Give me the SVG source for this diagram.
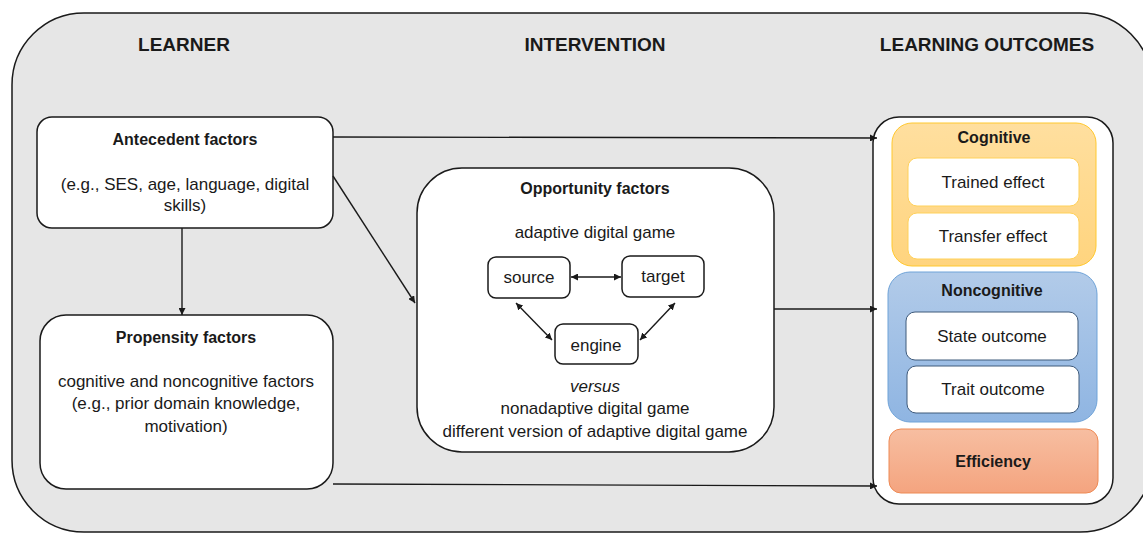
<svg xmlns="http://www.w3.org/2000/svg" width="1143" height="533" viewBox="0 0 1143 533">
<defs>
<style>
text{font-family:"Liberation Sans",Arial,sans-serif;fill:#1a1a1a;text-anchor:middle}
.h{font-size:19px;font-weight:bold}
.t{font-size:16px;font-weight:bold}
.b{font-size:17px}
.box{fill:#fff;stroke:#1a1a1a;stroke-width:1.5}
.conn{stroke:#1a1a1a;stroke-width:1.4;fill:none}
</style>
<marker id="ah" viewBox="0 0 10 10" refX="10" refY="5" markerWidth="7" markerHeight="7" markerUnits="userSpaceOnUse" orient="auto-start-reverse">
<path d="M0,0 L10,5 L0,10 z" fill="#1a1a1a"/>
</marker>
<linearGradient id="gOr" x1="0" y1="0" x2="0" y2="1"><stop offset="0" stop-color="#ffdf9f"/><stop offset="1" stop-color="#ffd47e"/></linearGradient>
<linearGradient id="gBl" x1="0" y1="0" x2="0" y2="1"><stop offset="0" stop-color="#b2cbe9"/><stop offset="1" stop-color="#8fb5e2"/></linearGradient>
<linearGradient id="gRd" x1="0" y1="0" x2="0" y2="1"><stop offset="0" stop-color="#f7bea1"/><stop offset="1" stop-color="#f4a47f"/></linearGradient>
</defs>

<g id="frame">
<rect x="12" y="13" width="1140" height="519" rx="72" fill="#e6e6e6" stroke="#1a1a1a" stroke-width="1.5"/>
<text class="h" x="184" y="51">LEARNER</text>
<text class="h" x="595" y="51">INTERVENTION</text>
<text class="h" x="987" y="51">LEARNING OUTCOMES</text>
</g>

<g id="antecedent">
<rect class="box" x="37" y="117" width="296" height="111" rx="15"/>
<text class="t" x="185" y="145">Antecedent factors</text>
<text class="b" x="185" y="190">(e.g., SES, age, language, digital</text>
<text class="b" x="185" y="211">skills)</text>
</g>

<g id="propensity">
<rect class="box" x="40" y="315" width="293" height="174" rx="26"/>
<text class="t" x="186" y="343">Propensity factors</text>
<text class="b" x="186" y="387">cognitive and noncognitive factors</text>
<text class="b" x="186" y="409">(e.g., prior domain knowledge,</text>
<text class="b" x="186" y="432">motivation)</text>
</g>

<g id="opportunity">
<rect class="box" x="417" y="168" width="357" height="284" rx="45"/>
<text class="t" x="595" y="194">Opportunity factors</text>
<text class="b" x="595" y="238">adaptive digital game</text>
<text class="b" x="595" y="392" font-style="italic">versus</text>
<text class="b" x="595" y="414">nonadaptive digital game</text>
<text class="b" x="595" y="437">different version of adaptive digital game</text>
</g>

<g id="source">
<rect class="box" x="488" y="257" width="82" height="41" rx="8"/>
<text class="b" x="529" y="283">source</text>
</g>
<g id="target">
<rect class="box" x="622" y="256" width="82" height="41" rx="8"/>
<text class="b" x="663" y="282">target</text>
</g>
<g id="engine">
<rect class="box" x="555" y="324" width="83" height="40" rx="8"/>
<text class="b" x="596" y="351">engine</text>
</g>

<g id="outcomes">
<rect class="box" x="873" y="117" width="240" height="387" rx="26"/>
</g>

<g id="cognitive">
<rect x="892" y="123" width="204" height="143" rx="20" fill="url(#gOr)" stroke="#ffc82e" stroke-width="1"/>
<text class="t" x="994" y="143">Cognitive</text>
</g>
<g id="trained">
<rect x="908" y="158" width="171" height="48" rx="9" fill="#fff" stroke="#ffd15a" stroke-width="1"/>
<text class="b" x="993" y="188">Trained effect</text>
</g>
<g id="transfer">
<rect x="908" y="213" width="171" height="46" rx="9" fill="#fff" stroke="#ffd15a" stroke-width="1"/>
<text class="b" x="993" y="242">Transfer effect</text>
</g>

<g id="noncognitive">
<rect x="888" y="272" width="209" height="150" rx="22" fill="url(#gBl)" stroke="#6fa3d8" stroke-width="1"/>
<text class="t" x="992" y="296">Noncognitive</text>
</g>
<g id="state">
<rect x="906" y="312" width="172" height="48" rx="9" fill="#fff" stroke="#3f5a7a" stroke-width="1"/>
<text class="b" x="992" y="342">State outcome</text>
</g>
<g id="trait">
<rect x="907" y="366" width="172" height="47" rx="9" fill="#fff" stroke="#3f5a7a" stroke-width="1"/>
<text class="b" x="993" y="395">Trait outcome</text>
</g>

<g id="efficiency">
<rect x="889" y="429" width="209" height="64" rx="12" fill="url(#gRd)" stroke="#ee8a55" stroke-width="1"/>
<text class="t" x="993" y="467">Efficiency</text>
</g>

<g id="connectors">
<line class="conn" x1="182" y1="228" x2="182" y2="315" marker-end="url(#ah)"/>
<line class="conn" x1="333" y1="137" x2="877" y2="138" marker-end="url(#ah)"/>
<line class="conn" x1="333" y1="176" x2="415" y2="303" marker-end="url(#ah)"/>
<line class="conn" x1="774" y1="309" x2="877" y2="309" marker-end="url(#ah)"/>
<line class="conn" x1="333" y1="484" x2="877" y2="486" marker-end="url(#ah)"/>
<line class="conn" x1="571" y1="277" x2="621" y2="277" marker-start="url(#ah)" marker-end="url(#ah)"/>
<line class="conn" x1="516" y1="303" x2="552" y2="340" marker-start="url(#ah)" marker-end="url(#ah)"/>
<line class="conn" x1="675" y1="303" x2="640" y2="340" marker-start="url(#ah)" marker-end="url(#ah)"/>
</g>
</svg>
